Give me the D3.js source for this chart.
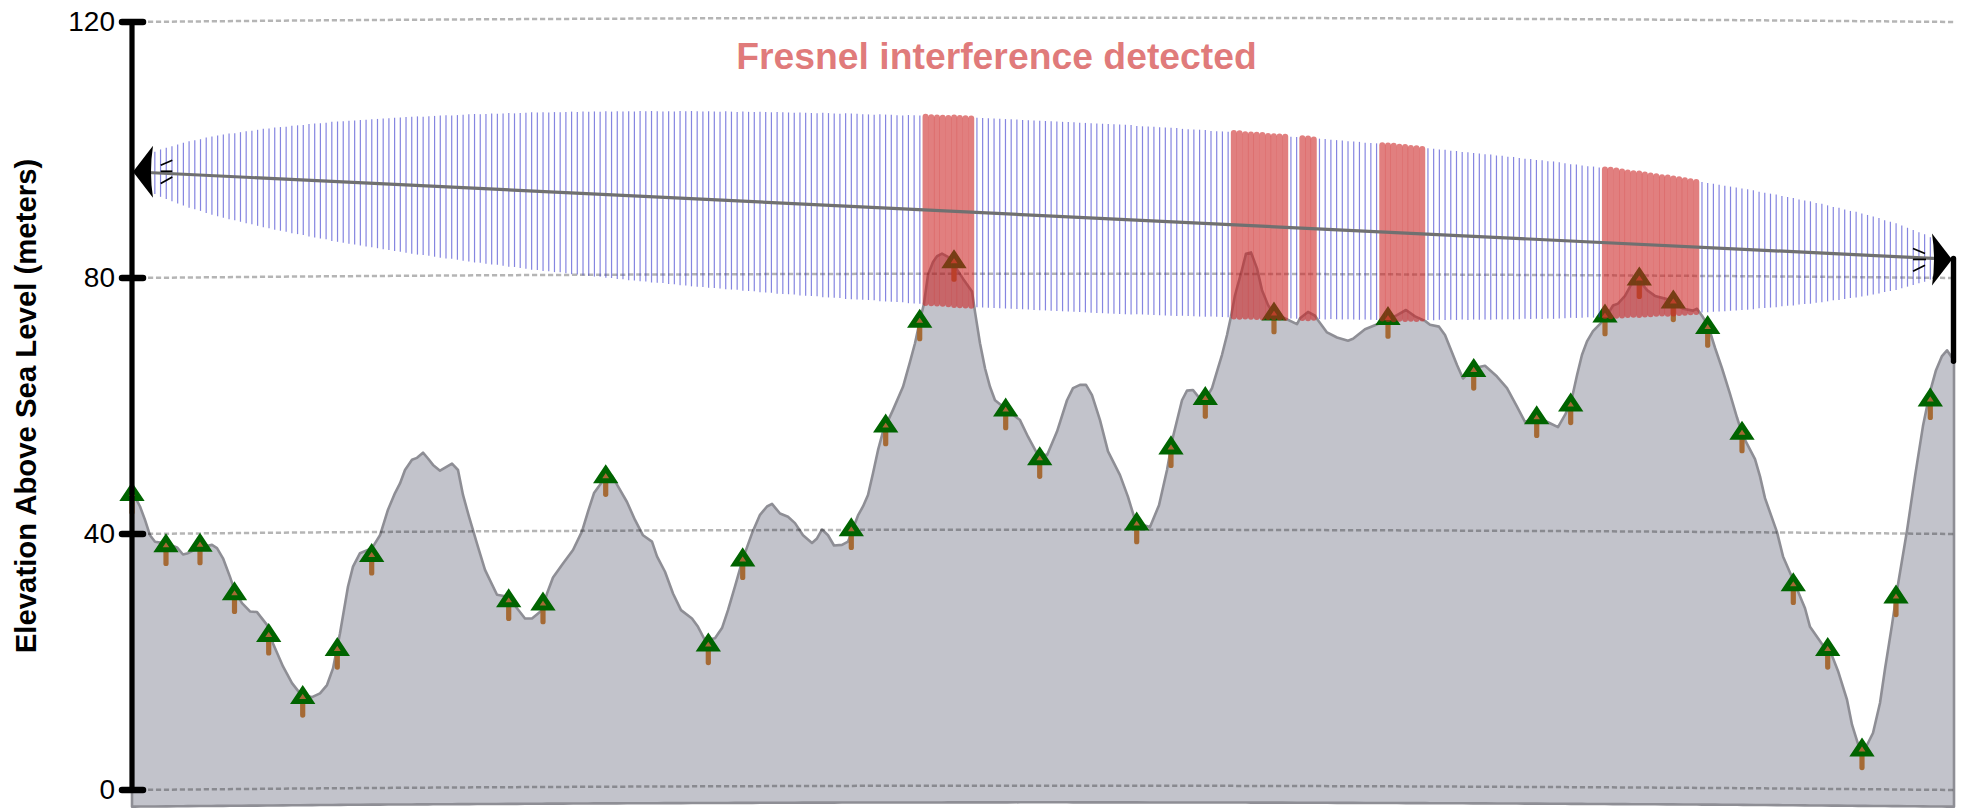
<!DOCTYPE html>
<html>
<head>
<meta charset="utf-8">
<script src="https://cdn.jsdelivr.net/npm/d3@7"></script>
<style>
  body { margin: 0; background: #fff; }
  text { font-family: "Liberation Sans", Arial, sans-serif; }
</style>
</head>
<body>
<svg id="chart" width="1968" height="809"></svg>
<script>
// Terrain profile (distance along the path, elevation in meters)
const terrainDist = [0,3,8,13,18,23,35,45,51,56,68,80,85,91,98,103,110,118,125,135,141,151,160,168,180,188,195,201,208,216,221,228,240,248,256,263,268,273,280,285,291,296,301,308,320,326,331,337,345,353,365,376,385,393,400,410,415,421,431,441,450,456,462,468,474,480,485,495,503,511,520,525,533,541,549,560,566,573,583,590,596,603,611,620,628,635,640,648,656,663,671,680,685,690,696,702,710,716,726,731,736,741,746,751,761,771,778,783,788,792,796,801,805,810,816,823,831,840,843,848,853,858,863,875,888,896,905,915,925,935,941,948,954,960,968,976,988,996,1004,1018,1027,1035,1041,1050,1055,1061,1066,1073,1080,1085,1090,1095,1099,1103,1110,1114,1119,1125,1130,1136,1141,1150,1165,1168,1176,1183,1186,1195,1205,1216,1221,1233,1241,1255,1265,1274,1283,1293,1298,1307,1313,1325,1331,1341,1353,1365,1375,1385,1393,1405,1418,1426,1433,1439,1445,1450,1455,1461,1473,1481,1486,1493,1500,1507,1515,1523,1535,1541,1551,1561,1565,1570,1576,1583,1590,1598,1605,1611,1623,1628,1633,1645,1651,1661,1673,1678,1690,1700,1706,1715,1720,1726,1733,1741,1748,1753,1760,1766,1775,1783,1791,1798,1804,1810,1815,1821,1822];
const terrainElev = [46.6,45.8,44.3,42.2,39.8,38.8,38.5,37.9,36.8,37.0,37.9,38.3,37.8,36.2,33.3,31.0,29.2,27.9,27.8,25.8,22.9,19.3,16.7,15.1,14.5,15.1,16.4,19.0,24.5,31.8,34.9,37.0,37.8,39.8,43.8,46.4,47.9,50.0,51.6,51.9,52.7,51.8,50.8,49.9,51.0,50.0,46.1,42.7,38.5,34.4,30.5,30.2,28.4,26.8,26.8,28.1,30.7,33.2,35.4,37.5,40.4,43.5,46.4,47.7,49.1,49.1,47.7,45.0,42.2,39.8,38.8,36.5,34.1,30.7,28.1,26.8,25.5,23.4,23.7,25.3,28.1,31.8,36.2,40.1,43.0,44.3,44.7,43.2,42.7,41.7,39.8,38.6,39.3,40.7,39.8,38.2,38.3,38.8,42.9,44.3,46.1,49.5,53.1,56.0,59.4,63.0,66.9,69.8,73.4,76.0,80.5,82.5,83.4,83.8,83.3,81.8,79.9,77.9,74.7,69.8,65.9,63.0,60.9,59.4,57.8,55.2,52.6,52.3,56.0,60.9,62.8,63.3,63.3,61.7,57.8,52.9,49.2,45.8,41.7,41.1,44.5,50.0,55.2,60.9,62.4,62.5,61.5,60.9,62.8,65.4,68.0,71.1,74.0,77.3,81.3,83.8,84.0,81.5,78.1,75.8,74.5,73.9,72.8,73.7,74.7,74.1,73.4,71.5,70.7,70.2,70.5,72.0,72.5,73.4,74.2,75.0,74.0,73.3,72.7,72.4,71.1,66.4,64.3,65.9,66.3,64.6,62.8,59.9,57.5,58.3,57.3,56.7,58.6,60.6,64.8,68.0,70.1,71.7,73.6,75.7,76.0,77.2,79.2,79.7,78.1,77.2,76.7,76.2,75.2,74.9,75.2,74.1,72.6,69.1,65.9,61.9,58.2,55.3,51.7,49.0,45.6,40.3,36.5,32.9,28.4,25.5,22.8,21.0,18.6,14.1,10.2,7.2,6.4,8.9,13.6,18.9,25.8,32.1,40.5,49.0,56.9,62.2,65.6,67.8,68.7,67.3,67.0];
const terrainBase = -2.6;

// Earth curvature
const earthDist = [0,228,456,683,911,1139,1366,1594,1822];
const earthBulge = [0,0.3,0.5,0.63,0.68,0.63,0.5,0.3,0];

// Trees (position and tree top elevation)
const treeDist = [0,34,68,102.5,136.7,170.7,205.3,239.7,376.7,411,473.7,576.3,610.7,719.3,753.7,787.7,822,873.7,907.7,1004.7,1039,1073.3,1142,1256,1341.7,1404.7,1438.7,1473,1507.3,1541.3,1575.7,1610,1661.3,1695.7,1730,1764,1798.3];
const treeTop = [48.0,40.0,40.1,32.5,26.0,16.3,23.8,38.5,31.4,30.9,50.8,24.5,37.8,42.5,58.7,75.1,84.4,61.2,53.6,43.4,55.3,63.0,76.2,75.5,67.4,60.0,62.0,75.9,81.7,78.1,74.1,57.6,33.9,23.8,8.1,32.0,62.8];

// Link between the two antennas
const txElev = 96.6;
const rxElev = 82.9;
const mastFoot = 67;

// Fresnel zone half height in meters, one value per hatch line
const hatchIndex = d3.range(4, 316);
const hatchStep = 5.709;
const fresnelRadius = [
  3.3,3.7,4.0,4.3,4.6,4.9,5.2,5.4,5.6,5.9,6.1,6.3,6.5,6.7,6.8,7.0,7.2,7.3,7.5,7.7,7.8,8.0,8.1,8.2,8.4,8.5,8.6,8.8,8.9,9.0,9.1,9.3,
  9.4,9.5,9.6,9.7,9.8,9.9,10.0,10.1,10.2,10.3,10.4,10.5,10.6,10.7,10.8,10.8,10.9,11.0,11.1,11.2,11.2,11.3,11.4,11.5,11.6,11.6,11.7,11.8,11.8,11.9,12.0,12.0,
  12.1,12.2,12.3,12.3,12.4,12.4,12.5,12.5,12.6,12.7,12.7,12.8,12.8,12.9,12.9,13.0,13.0,13.1,13.1,13.2,13.2,13.3,13.3,13.4,13.4,13.4,13.5,13.5,13.6,13.6,13.7,13.7,
  13.7,13.8,13.8,13.8,13.9,13.9,13.9,14.0,14.0,14.0,14.1,14.1,14.1,14.2,14.2,14.2,14.2,14.3,14.3,14.3,14.3,14.4,14.4,14.4,14.4,14.5,14.5,14.5,14.5,14.5,14.5,14.6,
  14.6,14.6,14.6,14.6,14.7,14.7,14.7,14.7,14.7,14.7,14.7,14.7,14.8,14.8,14.8,14.8,14.8,14.8,14.8,14.8,14.8,14.8,14.8,14.8,14.8,14.8,14.8,14.8,
  14.8,14.8,14.8,14.8,14.8,14.8,14.8,14.8,14.8,14.8,14.8,14.8,14.8,14.8,14.8,14.8,14.7,14.7,14.7,14.7,14.7,14.7,14.7,14.7,14.6,14.6,14.6,14.6,14.6,14.5,14.5,14.5,
  14.5,14.5,14.5,14.4,14.4,14.4,14.4,14.3,14.3,14.3,14.3,14.2,14.2,14.2,14.2,14.1,14.1,14.1,14.0,14.0,14.0,13.9,13.9,13.9,13.8,13.8,13.8,13.7,13.7,13.7,13.6,13.6,
  13.5,13.5,13.4,13.4,13.4,13.3,13.3,13.2,13.2,13.1,13.1,13.0,13.0,12.9,12.9,12.8,12.8,12.7,12.7,12.6,12.5,12.5,12.4,12.4,12.3,12.3,12.2,12.1,12.0,12.0,11.9,11.8,
  11.8,11.7,11.6,11.6,11.5,11.4,11.3,11.2,11.2,11.1,11.0,10.9,10.8,10.8,10.7,10.6,10.5,10.4,10.3,10.2,10.1,10.0,9.9,9.8,9.7,9.6,9.5,9.4,9.3,9.1,9.0,8.9,
  8.8,8.6,8.5,8.4,8.2,8.1,8.0,7.8,7.7,7.5,7.3,7.2,7.0,6.8,6.7,6.5,6.3,6.1,5.9,5.6,5.4,5.2,4.9,4.6,4.3,4.0,3.7,3.3
];
// Hatch lines that the terrain blocks
const blockedFrom = [139,193,205,219,258];
const blockedTo = [147,202,207,226,274];

const yTicks = [0,40,80,120];
const titleText = "Fresnel interference detected";
const yLabelText = "Elevation Above Sea Level (meters)";

// Scales
const svg = d3.select("#chart");
const x = d3.scaleLinear().domain([0, 1822]).range([132, 1954]);
const y = d3.scaleLinear().domain([0, 120]).range([790, 22]);
const bulgeAt = d3.scaleLinear().domain(earthDist).range(earthBulge);
const losAt = d3.scaleLinear().domain([0, 1822]).range([txElev, rxElev]);

// Terrain
const terrain = terrainDist.map((d, i) => ({ d: d, e: terrainElev[i] }));
const area = d3.area()
    .x(d => x(d.d))
    .y0(d => y(terrainBase + bulgeAt(d.d)))
    .y1(d => y(d.e));
svg.append("path")
    .attr("d", area(terrain))
    .attr("fill", "#c2c3cb")
    .attr("stroke", "#8e8e95")
    .attr("stroke-width", 2.6)
    .attr("stroke-linejoin", "round");

// Curved grid lines
const gridDist = [16].concat(earthDist.slice(1));
const gridLine = elev => d3.line()
    .x(d => x(d))
    .y(d => y(elev + bulgeAt(d)))
    .curve(d3.curveNatural)(gridDist);
svg.selectAll(".grid")
    .data(yTicks)
    .enter()
    .append("path")
    .attr("class", "grid")
    .attr("d", d => gridLine(d))
    .attr("fill", "none")
    .attr("stroke", "#000")
    .attr("stroke-opacity", 0.29)
    .attr("stroke-width", 2.5)
    .attr("stroke-dasharray", "5.2 2.8");

// Trees
const trees = svg.selectAll(".tree")
    .data(treeDist)
    .enter()
    .append("g")
    .attr("class", "tree")
    .attr("transform", (d, i) => `translate(${x(d)},${y(treeTop[i])})`);
trees.append("line")
    .attr("y1", 8)
    .attr("y2", 29.4)
    .attr("stroke", "#a56a35")
    .attr("stroke-width", 5.2)
    .attr("stroke-linecap", "round");
trees.append("path")
    .attr("d", "M0,3.8L8,15.8L-8,15.8Z")
    .attr("fill", "#a56a35")
    .attr("stroke", "#006400")
    .attr("stroke-width", 5);

// Fresnel hatch
const isBlocked = k => blockedFrom.some((from, i) => k >= from && k <= blockedTo[i]);
const hatch = hatchIndex.map((k, i) => ({ k: k, d: k * hatchStep, r: fresnelRadius[i] }));
svg.selectAll(".hatch")
    .data(hatch)
    .enter()
    .append("line")
    .attr("class", "hatch")
    .attr("x1", d => x(d.d))
    .attr("x2", d => x(d.d))
    .attr("y1", d => y(losAt(d.d) + d.r) + (isBlocked(d.k) ? 1 : 0))
    .attr("y2", d => y(losAt(d.d) - d.r) - (isBlocked(d.k) ? 1 : 0))
    .attr("stroke", d => isBlocked(d.k) ? "#cc2222" : "#3333cc")
    .attr("stroke-opacity", d => isBlocked(d.k) ? 0.58 : 0.6)
    .attr("stroke-width", d => isBlocked(d.k) ? 6 : 1.2)
    .attr("stroke-linecap", d => isBlocked(d.k) ? "round" : "butt");

// Line of sight
svg.append("line")
    .attr("x1", x(0))
    .attr("y1", y(txElev))
    .attr("x2", x(1822))
    .attr("y2", y(rxElev))
    .attr("stroke", "#707070")
    .attr("stroke-width", 3.2);

// Right mast
svg.append("line")
    .attr("x1", x(1822) - 0.5)
    .attr("x2", x(1822) - 0.5)
    .attr("y1", y(rxElev) - 1)
    .attr("y2", y(mastFoot))
    .attr("stroke", "#000")
    .attr("stroke-width", 5.4)
    .attr("stroke-linecap", "round");

// Axis
const axis = svg.append("g")
    .attr("transform", "translate(132,0)")
    .call(d3.axisLeft(y).tickValues(yTicks).tickSizeOuter(0).tickSizeInner(10).tickPadding(7).offset(0));
axis.select(".domain")
    .attr("stroke", "#000")
    .attr("stroke-width", 5.2);
axis.selectAll(".tick line")
    .attr("x1", 11)
    .attr("stroke", "#000")
    .attr("stroke-width", 6.5)
    .attr("stroke-linecap", "round");
axis.selectAll(".tick text")
    .attr("fill", "#000")
    .style("font-family", '"Liberation Sans", Arial, sans-serif')
    .style("font-size", "28px");

// Antenna arrow heads and the small ticks next to them
const head = dir => `M0,0L${dir * 20},-26Q${dir * 16},0 ${dir * 20},26Z`;
svg.append("path")
    .attr("d", head(1))
    .attr("transform", `translate(133,${y(txElev)})`)
    .attr("fill", "#000");
svg.append("path")
    .attr("d", head(-1))
    .attr("transform", `translate(1952,${y(rxElev)})`)
    .attr("fill", "#000");

const leftTicks = [[28.7, -6.5, 40.3, -11.5], [28.7, -0.5, 40.3, -0.5], [28.7, 11.8, 40.3, 5.2]];
const rightTicks = [[-41, -11, -29, -6], [-41, 0, -28, 0], [-41, 11.7, -29, 5.7]];
svg.selectAll(".tx")
    .data(leftTicks)
    .enter()
    .append("line")
    .attr("class", "tx")
    .attr("x1", d => 132 + d[0])
    .attr("y1", d => y(txElev) + d[1])
    .attr("x2", d => 132 + d[2])
    .attr("y2", d => y(txElev) + d[3])
    .attr("stroke", "#000")
    .attr("stroke-width", 1.7);
svg.selectAll(".rx")
    .data(rightTicks)
    .enter()
    .append("line")
    .attr("class", "rx")
    .attr("x1", d => 1954 + d[0])
    .attr("y1", d => y(rxElev) + d[1])
    .attr("x2", d => 1954 + d[2])
    .attr("y2", d => y(rxElev) + d[3])
    .attr("stroke", "#000")
    .attr("stroke-width", 1.7);

// Title
svg.append("text")
    .attr("x", 996.5)
    .attr("y", 69)
    .attr("text-anchor", "middle")
    .attr("fill", "#cc2222")
    .attr("fill-opacity", 0.6)
    .style("font-size", "37.33px")
    .style("font-weight", "bold")
    .text(titleText);

// Y label
svg.append("text")
    .attr("text-anchor", "middle")
    .attr("transform", "translate(36,406) rotate(-90)")
    .attr("fill", "#000")
    .style("font-size", "29.33px")
    .style("font-weight", "bold")
    .text(yLabelText);
</script>
</body>
</html>
